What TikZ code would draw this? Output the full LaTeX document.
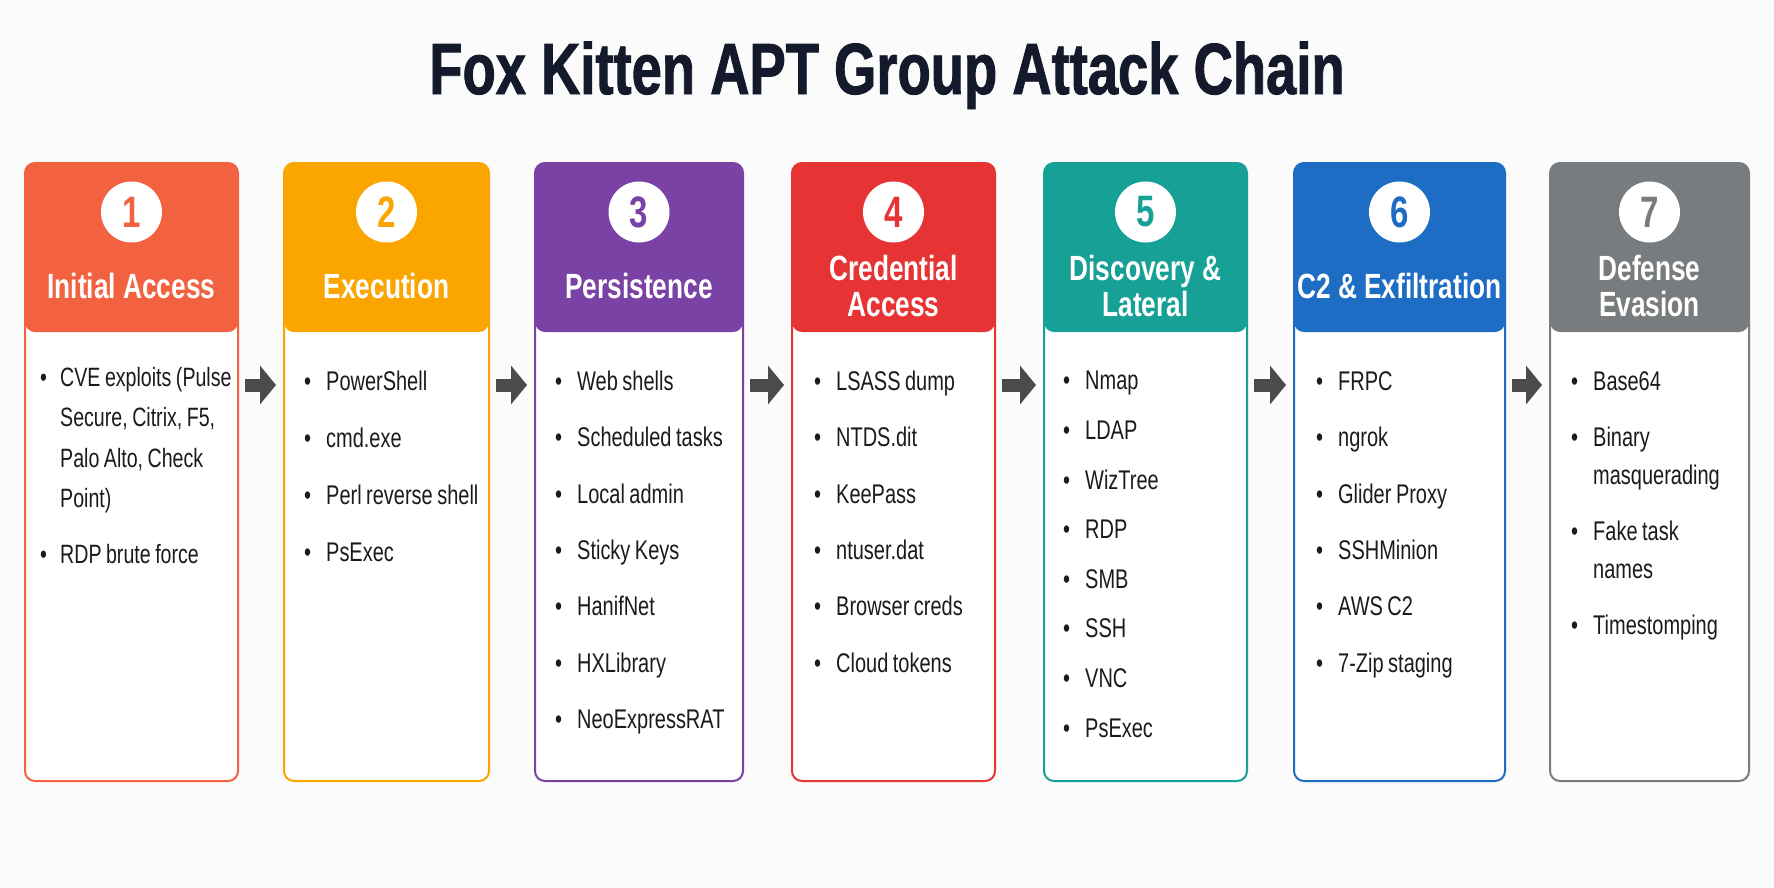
\documentclass[tikz,border=0pt]{standalone}
\usepackage{fontspec}
\setmainfont{Liberation Sans}[FakeStretch=0.74]
\newfontfamily\titlefont{Liberation Sans}[FakeStretch=0.75, FakeBold=1.2]
\newfontfamily\headfont{Liberation Sans}[FakeStretch=0.75]
\usetikzlibrary{positioning, arrows.meta, calc}

\definecolor{initial}{HTML}{F26241}
\definecolor{execution}{HTML}{FAA500}
\definecolor{persist}{HTML}{7A42A5}
\definecolor{credential}{HTML}{E63434}
\definecolor{discovery}{HTML}{17A096}
\definecolor{exfil}{HTML}{1C6DC3}
\definecolor{evasion}{HTML}{797C7E}
\definecolor{ink}{HTML}{1B1B1F}
\definecolor{titleink}{HTML}{141A2B}
\definecolor{arrowgray}{HTML}{4B4B4B}
\definecolor{paper}{HTML}{FBFBFB}

% one bullet point, hanging indent for wrapped lines
\newlength{\bulhang}\setlength{\bulhang}{22pt}
\newcommand{\bul}[1]{\par\noindent\spaceskip=4.5pt plus 1pt\hangindent=\bulhang\hangafter=1\makebox[\bulhang][l]{\textbullet}\strut#1\par}

\begin{document}
\begin{tikzpicture}[x=1pt, y=-1pt,
                    stagebox/.style={anchor=north west, rounded corners=10pt, line width=2pt, draw=#1, fill=white,
                                     minimum height=618pt, inner sep=0pt, outer sep=0pt,
                                     path picture={\fill[#1] (path picture bounding box.north west) rectangle ([yshift=-169pt]path picture bounding box.north east);}},
                    badge/.style={circle, fill=white, minimum size=61pt, inner sep=0pt, text=#1,
                                  font=\headfont\bfseries\fontsize{44}{44}\selectfont},
                    headtxt/.style={text=white, align=center, inner sep=0pt, font=\headfont\bfseries\fontsize{35}{36}\selectfont},
                    itemlist/.style={anchor=north west, inner sep=0pt, text width=190pt, align=left, text=ink,
                                     font=\fontsize{27}{38}\selectfont},
                    flow/.style={line width=13pt, draw=arrowgray, -{Triangle[length=16pt, width=38pt]},
                                 shorten <=7pt, shorten >=8pt}]
    % Background and frame
    \path[use as bounding box, fill=paper] (0,0) rectangle (1774,887);

    % Title
    \node[anchor=base, inner sep=0pt, text=titleink, font=\titlefont\bfseries\fontsize{72.5}{72}\selectfont] (title) at (887,94) {Fox Kitten APT Group Attack Chain};

    % Stage boxes
    \node[stagebox=initial,    minimum width=213pt] (s1) at (25,163) {};
    \node[stagebox=execution,  minimum width=205pt] (s2) at (284,163) {};
    \node[stagebox=persist,    minimum width=208pt] (s3) at (535,163) {};
    \node[stagebox=credential, minimum width=203pt] (s4) at (792,163) {};
    \node[stagebox=discovery,  minimum width=203pt] (s5) at (1044,163) {};
    \node[stagebox=exfil,      minimum width=211pt] (s6) at (1294,163) {};
    \node[stagebox=evasion,    minimum width=199pt] (s7) at (1550,163) {};

    % Numbers
    \node[badge=initial]    (n1) at (131.5,212) {1};
    \node[badge=execution]  (n2) at (386.5,212) {2};
    \node[badge=persist]    (n3) at (639,212) {3};
    \node[badge=credential] (n4) at (893.5,212) {4};
    \node[badge=discovery]  (n5) at (1145.5,212) {5};
    \node[badge=exfil]      (n6) at (1399.5,212) {6};
    \node[badge=evasion]    (n7) at (1649.5,212) {7};

    % Stage names
    \node[headtxt] (h1) at (131.5,286) {Initial Access};
    \node[headtxt] (h2) at (386.5,286) {Execution};
    \node[headtxt] (h3) at (639,286) {Persistence};
    \node[headtxt] (h4) at (893.5,286) {Credential\\Access};
    \node[headtxt] (h5) at (1145.5,286) {Discovery \&\\Lateral};
    \node[headtxt] (h6) at (1399.5,286) {C2 \& Exfiltration};
    \node[headtxt] (h7) at (1649.5,286) {Defense\\Evasion};

    % Techniques
    \node[itemlist, text width=215pt] (l1) at (40,330) {\fontsize{26.5}{40.5}\selectfont\setlength{\parskip}{15.5pt}\setlength{\bulhang}{20pt}%
        \bul{CVE exploits (Pulse\newline Secure, Citrix, F5,\newline Palo Alto, Check\newline Point)}%
        \bul{RDP brute force}};
    \node[itemlist] (l2) at (304,333) {\setlength{\parskip}{19pt}%
        \bul{PowerShell}\bul{cmd.exe}\bul{Perl reverse shell}\bul{PsExec}};
    \node[itemlist] (l3) at (555,334) {\setlength{\parskip}{18.3pt}%
        \bul{Web shells}\bul{Scheduled tasks}\bul{Local admin}\bul{Sticky Keys}%
        \bul{HanifNet}\bul{HXLibrary}\bul{NeoExpressRAT}};
    \node[itemlist] (l4) at (814,334) {\setlength{\parskip}{18.3pt}%
        \bul{LSASS dump}\bul{NTDS.dit}\bul{KeePass}\bul{ntuser.dat}%
        \bul{Browser creds}\bul{Cloud tokens}};
    \node[itemlist] (l5) at (1063,340) {\setlength{\parskip}{11.6pt}%
        \bul{Nmap}\bul{LDAP}\bul{WizTree}\bul{RDP}\bul{SMB}\bul{SSH}\bul{VNC}\bul{PsExec}};
    \node[itemlist] (l6) at (1316,334) {\setlength{\parskip}{18.3pt}%
        \bul{FRPC}\bul{ngrok}\bul{Glider Proxy}\bul{SSHMinion}\bul{AWS C2}\bul{7-Zip staging}};
    \node[itemlist] (l7) at (1571,334) {\setlength{\parskip}{18pt}%
        \bul{Base64}\bul{Binary\newline masquerading}\bul{Fake task\newline names}\bul{Timestomping}};

    % Flow between stages
    \draw[flow] ([yshift=-222pt]s1.north east) -- ([yshift=-222pt]s2.north west);
    \draw[flow] ([yshift=-222pt]s2.north east) -- ([yshift=-222pt]s3.north west);
    \draw[flow] ([yshift=-222pt]s3.north east) -- ([yshift=-222pt]s4.north west);
    \draw[flow] ([yshift=-222pt]s4.north east) -- ([yshift=-222pt]s5.north west);
    \draw[flow] ([yshift=-222pt]s5.north east) -- ([yshift=-222pt]s6.north west);
    \draw[flow] ([yshift=-222pt]s6.north east) -- ([yshift=-222pt]s7.north west);
\end{tikzpicture}
\end{document}
